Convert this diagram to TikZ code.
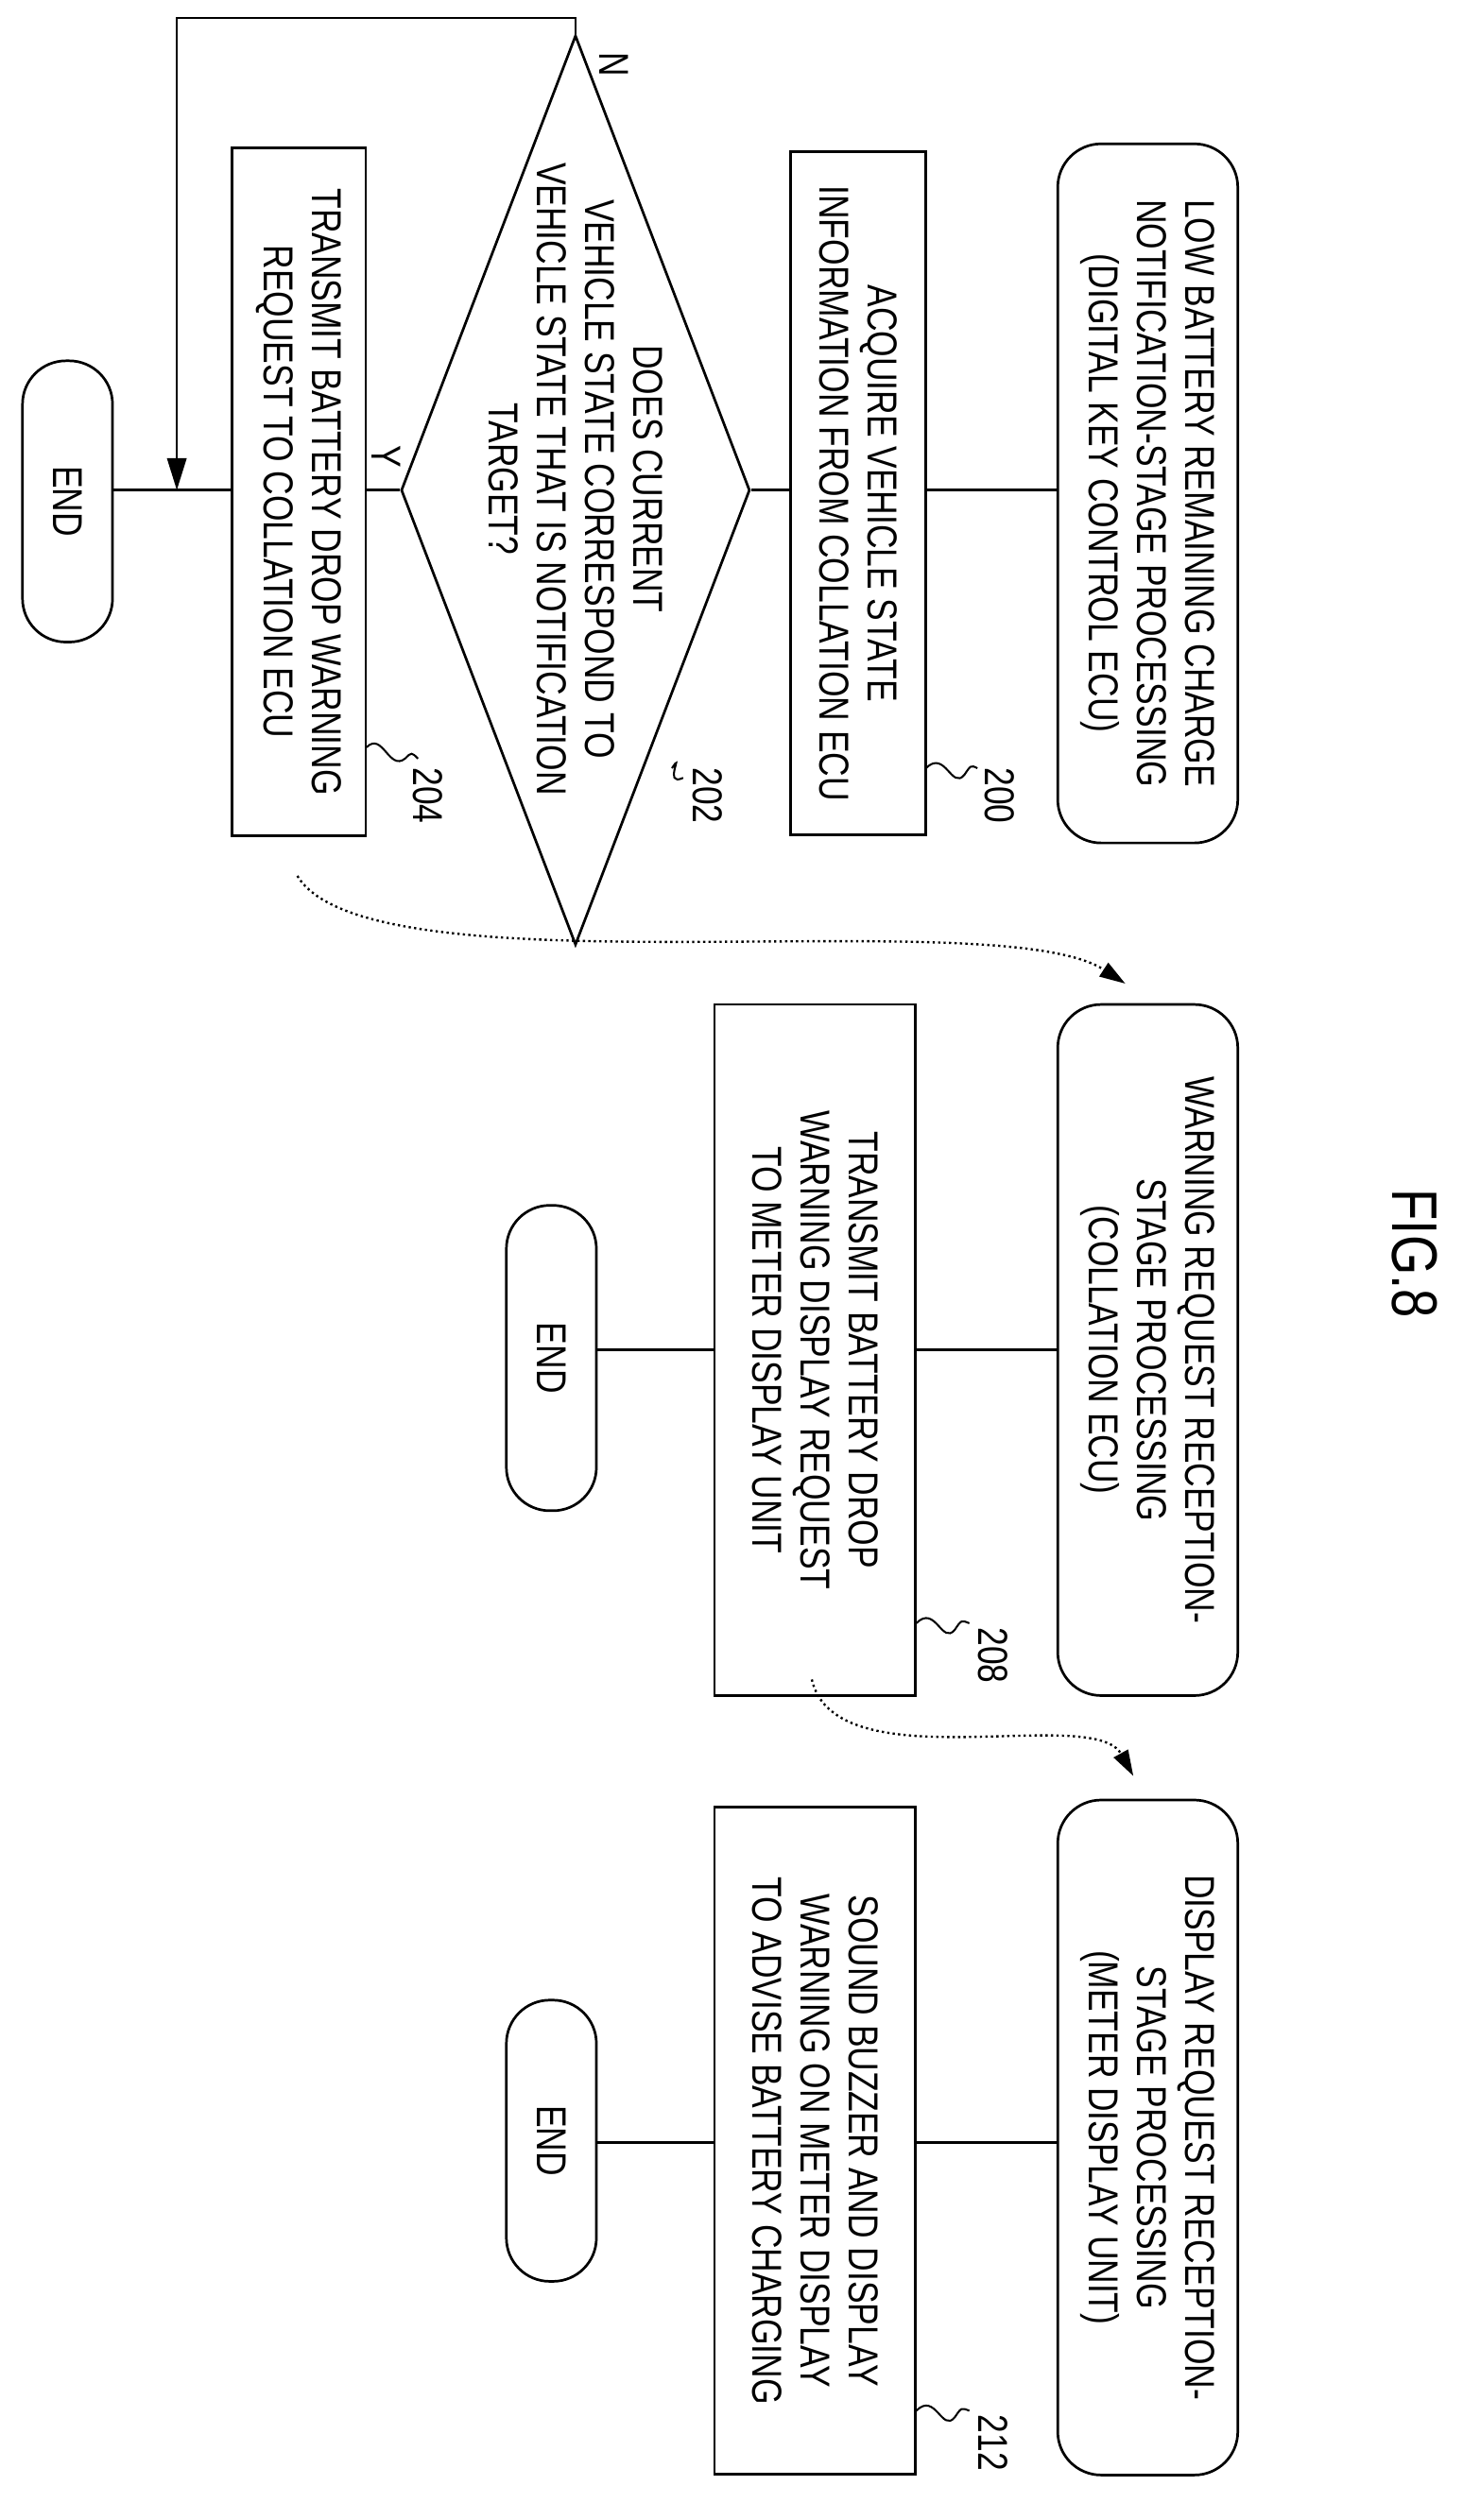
\documentclass[tikz,border=0pt]{standalone}
\usepackage{fontspec}
\setmainfont{Liberation Sans}[FakeStretch=0.8]
\usetikzlibrary{shapes.geometric,arrows.meta}
\tikzset{
  every node/.style={rotate=-90,font=\fontsize{26}{30}\selectfont,align=center,inner sep=0pt},
  term/.style={draw,line width=1.6pt,rounded corners=27pt,minimum height=112pt},
  ends/.style={draw,line width=1.6pt,rounded corners=27pt,minimum height=56pt},
  proc/.style={draw,line width=1.6pt,rectangle},
  flow/.style={line width=1.6pt},
  hand/.style={line width=1.4pt,dotted,-{Triangle[length=16pt,width=10pt]}},
  squig/.style={line width=1.2pt}
}
\begin{document}
\begin{tikzpicture}[x=1pt,y=-1pt]
        \useasboundingbox (0,0) rectangle (910,1568);
        % first column
        \node[term,minimum width=435pt] (p1) at (714,307) {LOW BATTERY REMAINING CHARGE\\NOTIFICATION-STAGE PROCESSING\\(DIGITAL KEY CONTROL ECU)};
        \node[proc,minimum width=425pt,minimum height=84pt] (b200) at (534,307) {ACQUIRE VEHICLE STATE\\INFORMATION FROM COLLATION ECU};
        \node[draw,diamond,line width=1.6pt,minimum width=566pt,minimum height=217pt] (d202) at (358,305) {};
        \node (t202) at (358,298) {DOES CURRENT\\VEHICLE STATE CORRESPOND TO\\VEHICLE STATE THAT IS NOTIFICATION\\TARGET?};
        \node[proc,minimum width=428pt,minimum height=83pt] (b204) at (186,306) {TRANSMIT BATTERY DROP WARNING\\REQUEST TO COLLATION ECU};
        \node[ends,minimum width=175pt] (e1) at (42,312) {END};
        \coordinate (jn) at (110,305);
        \draw[flow] (p1.south |- 0,305) -- (b200.north |- 0,305);
        \draw[flow] (b200.south |- 0,305) -- (d202.north);
        \draw[flow] (d202.south) -- (b204.north |- 0,305);
        \draw[flow] (b204.south |- 0,305) -- (e1.north |- 0,305);
        \draw[flow,-{Triangle[length=20pt,width=12pt]}] (d202.west) -- ++(0,-10) -| (jn);
        \node (n) at (382,40) {N};
        \node (y) at (240,284) {Y};
        % step numbers
        \node (l200) at (622,495) {200};
        \draw[squig] (576,478) .. controls (588,466) and (592,492) .. (600,482) .. controls (604,476) .. (608,478);
        \node (l202) at (440,495) {202};
        \draw[squig] (418,478) .. controls (426,466) and (412,490) .. (425,484);
        \node (l204) at (266,495) {204};
        \draw[squig] (228,465) .. controls (238,455) and (242,480) .. (252,472) .. controls (256,468) .. (260,472);
        \draw[hand] (185,545) .. controls (230,620) and (620,560) .. (700,612);
        % second column
        \node[term,minimum width=430pt] (p2) at (714,840) {WARNING REQUEST RECEPTION-\\STAGE PROCESSING\\(COLLATION ECU)};
        \node[proc,minimum width=430pt,minimum height=125pt] (b208) at (507,840) {TRANSMIT BATTERY DROP\\WARNING DISPLAY REQUEST\\TO METER DISPLAY UNIT};
        \node[ends,minimum width=190pt] (e2) at (343,845) {END};
        \draw[flow] (p2.south |- 0,840) -- (b208.north |- 0,840);
        \draw[flow] (b208.south |- 0,840) -- (e2.north |- 0,840);
        \node (l208) at (618,1030) {208};
        \draw[squig] (570,1010) .. controls (582,998) and (586,1024) .. (594,1014) .. controls (598,1008) .. (603,1010);
        \draw[hand] (505,1045) .. controls (520,1110) and (680,1060) .. (705,1105);
        % third column
        \node[term,minimum width=420pt] (p3) at (714,1330) {DISPLAY REQUEST RECEPTION-\\STAGE PROCESSING\\(METER DISPLAY UNIT)};
        \node[proc,minimum width=415pt,minimum height=125pt] (b212) at (507,1332) {SOUND BUZZER AND DISPLAY\\WARNING ON METER DISPLAY\\TO ADVISE BATTERY CHARGING};
        \node[ends,minimum width=175pt] (e3) at (343,1332) {END};
        \draw[flow] (p3.south |- 0,1333) -- (b212.north |- 0,1333);
        \draw[flow] (b212.south |- 0,1333) -- (e3.north |- 0,1333);
        \node (l212) at (618,1520) {212};
        \draw[squig] (570,1500) .. controls (582,1488) and (586,1514) .. (594,1504) .. controls (598,1498) .. (603,1500);
        \node[font=\fontsize{40}{44}\selectfont] (fig) at (880,780) {FIG.8};
\end{tikzpicture}
\end{document}
